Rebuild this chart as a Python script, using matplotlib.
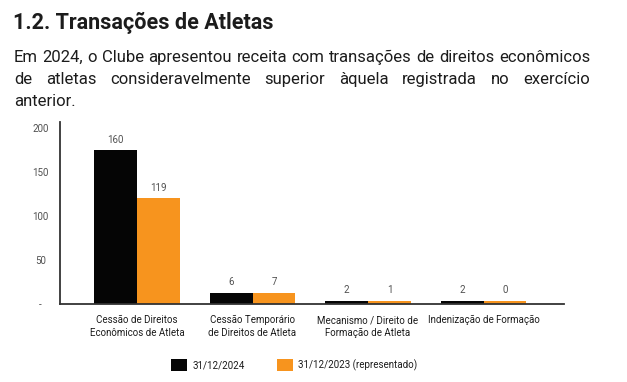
import matplotlib.pyplot as plt
import numpy as np

# data
categories = ["Cessão de Direitos\nEconômicos de Atleta",
              "Cessão Temporário\nde Direitos de Atleta",
              "Mecanismo / Direito de\nFormação de Atleta",
              "Indenização de Formação"]
bars_2024 = [175, 13, 3.5, 3.5]     # bar heights as drawn
bars_2023 = [120, 13, 3.5, 3.5]
labels_2024 = ["160", "6", "2", "2"]  # printed values
labels_2023 = ["119", "7", "1", "0"]
series_names = ["31/12/2024", "31/12/2023 (representado)"]
yticks = [0, 50, 100, 150, 200]
ytick_labels = ["-", "50", "100", "150", "200"]

title = "1.2. Transações de Atletas"
body = ["Em 2024, o Clube apresentou receita com transações de direitos econômicos",
        "de atletas consideravelmente superior àquela registrada no exercício",
        "anterior."]

BLACK = "#050505"
ORANGE = "#F7941E"
TXT = "#1c1c1c"
GRAY = "#505050"

plt.rcParams['font.family'] = ['Roboto', 'DejaVu Sans']

W, H = 627, 382
fig = plt.figure(figsize=(W / 100, H / 100), dpi=100)


def justify(words, x0, x1, y, **kw):
    r = fig.canvas.get_renderer()
    arts = [fig.text(0, y, w, **kw) for w in words]
    widths = [a.get_window_extent(r).width for a in arts]
    gap = ((x1 - x0) - sum(widths)) / (len(words) - 1)
    x = x0
    for a, w in zip(arts, widths):
        a.set_x(x / W)
        x += w + gap


fig.text(13 / W, 1 - 29 / H, title, fontsize=15.5, fontweight='bold',
         color=TXT, va='baseline')
body_kw = dict(fontsize=12, color=TXT, va='baseline')
justify(body[0].split(), 14, 590, 1 - 62 / H, **body_kw)
justify(body[1].split(), 14, 590, 1 - 84 / H, **body_kw)
fig.text(14 / W, 1 - 106 / H, body[2], **body_kw)

ax = fig.add_axes([60 / W, 1 - 304 / H, 504 / W, 182 / H])
x = np.arange(len(categories))
bw = 0.372
b1 = ax.bar(x - bw / 2, bars_2024, bw, color=BLACK, label=series_names[0])
b2 = ax.bar(x + bw / 2, bars_2023, bw, color=ORANGE, label=series_names[1])
for bars, labs in ((b1, labels_2024), (b2, labels_2023)):
    for rect, lab in zip(bars, labs):
        ax.annotate(lab, (rect.get_x() + rect.get_width() / 2, rect.get_height()),
                    xytext=(0, 4), textcoords='offset points', ha='center',
                    va='bottom', fontsize=7, color=GRAY)

ax.set_xlim(-0.667, 3.697)
ax.set_ylim(0, 207)
ax.set_yticks(yticks)
ax.set_yticklabels(ytick_labels)
ax.set_xticks(x)
ax.set_xticklabels(categories, linespacing=1.3)
ax.tick_params(axis='both', length=0, labelsize=7, colors=GRAY)
ax.tick_params(axis='x', pad=8, colors=TXT)
ax.tick_params(axis='y', pad=14)
for lab in ax.get_yticklabels():
    lab.set_horizontalalignment('center')
for s in ('top', 'right'):
    ax.spines[s].set_visible(False)
for s in ('left', 'bottom'):
    ax.spines[s].set_color('#333333')
    ax.spines[s].set_linewidth(1.3)

fig.legend(handles=[b1, b2], loc='center', bbox_to_anchor=(294 / W, 1 - 365 / H),
           ncol=2, frameon=False, fontsize=7, handlelength=1.7, handleheight=1.6,
           handletextpad=0.5, columnspacing=3.3, labelcolor=TXT)

fig.savefig("out.png", dpi=100)
